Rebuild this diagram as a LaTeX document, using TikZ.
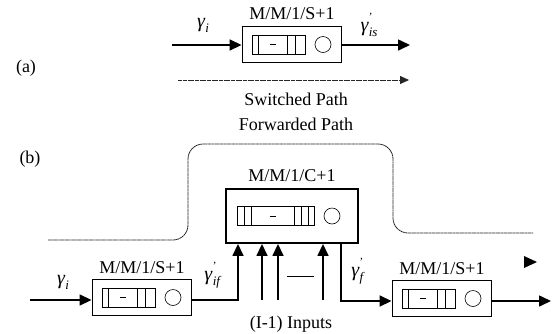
\documentclass[tikz,border=0pt]{standalone}
\usepackage{fontspec}
\setmainfont{Liberation Serif}
\usetikzlibrary{arrows.meta}
\newcommand{\gm}[2]{{\fontsize{20}{20}\selectfont\textit{γ}}\makebox[0pt][l]{\raisebox{1.3ex}{\fontsize{11}{11}\selectfont #2}}\raisebox{-0.6ex}{\fontsize{13}{13}\selectfont\textit{#1}}}
\tikzset{
  box/.style={draw, line width=1.9pt, minimum width=99pt, minimum height=36pt, inner sep=0pt},
  bigbox/.style={draw, line width=1.9pt, minimum width=132pt, minimum height=54pt, inner sep=0pt},
  flow/.style={line width=1.6pt, -{Triangle[length=12pt,width=11pt]}},
  path dot/.style={line width=0.8pt, black!85, dash pattern=on 2pt off 0.4pt},
  txt/.style={inner sep=0pt, font=\fontsize{18}{18}\selectfont},
  qs/.pic={
    \draw[line width=0.6pt] (-40,-9.5) rectangle (13,9.5);
    \draw[line width=0.6pt] (-34,-9.5) -- (-34,9.5) (-5,-9.5) -- (-5,9.5) (3,-9.5) -- (3,9.5);
    \draw[line width=0.8pt] (-22,0) -- (-16,0);
    \draw[line width=0.6pt] (31,0) circle (8);
  },
  qc/.pic={
    \draw[line width=0.6pt] (-55,-9.5) rectangle (22,9.5);
    \draw[line width=0.6pt] (-48,-9.5) -- (-48,9.5) (-41,-9.5) -- (-41,9.5) (2,-9.5) -- (2,9.5) (9,-9.5) -- (9,9.5) (16,-9.5) -- (16,9.5);
    \draw[line width=0.8pt] (-22,0) -- (-16,0);
    \draw[line width=0.6pt] (40,0) circle (8);
  }
}
\begin{document}
\begin{tikzpicture}[x=1pt,y=-1pt]
\useasboundingbox (0,0) rectangle (557,333);
% (a)
\node[txt] (la) at (26,68) {(a)};
\node[box] (A) at (292,44.5) {};
\pic at (A.center) {qs};
\node[txt] (Alab) at (292,14) {M/M/1/S+1};
\coordinate (Ain) at (172,45);
\coordinate (Aout) at (410,45);
\draw[flow] (Ain) -- (Ain -| A.west);
\draw[flow] (Ain -| A.east) -- (Aout);
\node[txt] (ga) at (203,25) {\gm{i}{}};
\node[txt] (gis) at (369,25) {\gm{is}{'}};
\coordinate (sw1) at (178,80);
\coordinate (sw2) at (409,80);
\draw[path dot, -{Triangle[length=9pt,width=8pt]}] (sw1) -- (sw2);
\node[txt] (swt) at (296,99) {Switched Path};
\node[txt] (fwt) at (296,124) {Forwarded Path};
% (b)
\node[txt] (lb) at (30,159) {(b)};
\coordinate (f1) at (48,240);
\coordinate (f2) at (188,240);
\coordinate (f3) at (188,144);
\coordinate (f4) at (393,144);
\coordinate (f5) at (393,233);
\coordinate (f6) at (533,233);
\draw[path dot, rounded corners=15pt] (f1) -- (f2) -- (f3) -- (f4) -- (f5) -- (f6);
\coordinate (tipb) at (531,262);
\fill (tipb) ++(-7,-6) -- ++(13,6) -- ++(-13,6) -- cycle;
\node[bigbox] (C) at (292,216) {};
\pic at (C.center) {qc};
\node[txt] (Clab) at (292,176) {M/M/1/C+1};
\node[box] (B1) at (142,297.5) {};
\pic at (B1.center) {qs};
\node[txt] (B1lab) at (142,268) {M/M/1/S+1};
\node[box] (B2) at (442,298.5) {};
\pic at (B2.center) {qs};
\node[txt] (B2lab) at (442,269) {M/M/1/S+1};
\coordinate (B1in) at (30,300);
\draw[flow] (B1in) -- (B1in -| B1.west);
\node[txt] (gb) at (63,282) {\gm{i}{}};
\coordinate (j1) at (238,300);
\draw[flow] (j1 -| B1.east) -- (j1) -- (j1 |- C.south);
\node[txt] (gif) at (213,275) {\gm{if}{'}};
\coordinate (i2) at (262,300);
\coordinate (i3) at (278,300);
\coordinate (i4) at (323,300);
\draw[flow] (i2) -- (i2 |- C.south);
\draw[flow] (i3) -- (i3 |- C.south);
\draw[flow] (i4) -- (i4 |- C.south);
\draw[line width=0.8pt] (287,276) -- (314,276);
\coordinate (j2) at (341,301);
\draw[flow] (j2 |- C.south) -- (j2) -- (j2 -| B2.west);
\node[txt] (gf) at (358,271) {\gm{f}{'}};
\coordinate (B2out) at (551,301);
\draw[flow] (B2out -| B2.east) -- (B2out);
\node[txt] (inp) at (291,324) {(I-1) Inputs};
\end{tikzpicture}
\end{document}
